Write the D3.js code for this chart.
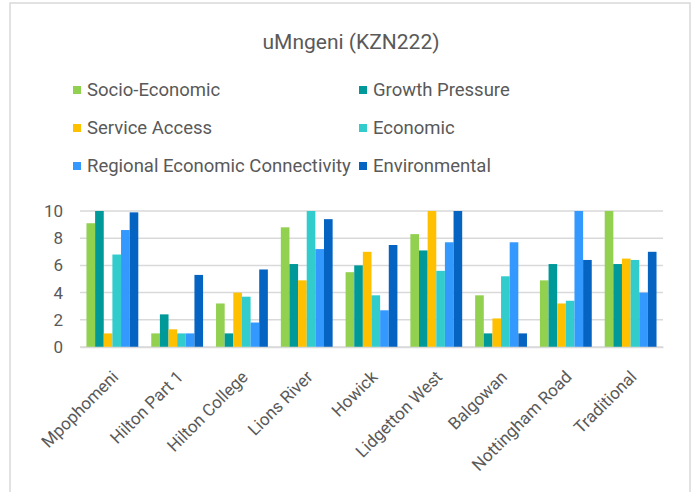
<!DOCTYPE html>
<html><head><meta charset="utf-8">
<script src="https://cdn.jsdelivr.net/npm/d3@7"></script>
<style>body{margin:0;background:#fff;} text{font-family:Roboto, "Open Sans", sans-serif;}</style>
</head><body><svg id="c" width="692" height="492"></svg>
<script>
const categories = ["Mpophomeni","Hilton Part 1","Hilton College","Lions River","Howick","Lidgetton West","Balgowan","Nottingham Road","Traditional"];
const seriesNames = ["Socio-Economic","Growth Pressure","Service Access","Economic","Regional Economic Connectivity","Environmental"];
const socioEconomic = [9.1,1,3.2,8.8,5.5,8.3,3.8,4.9,10];
const growthPressure = [10,2.4,1,6.1,6.0,7.1,1,6.1,6.1];
const serviceAccess = [1,1.3,4,4.9,7.0,10,2.1,3.2,6.5];
const economic = [6.8,1,3.7,10,3.8,5.6,5.2,3.4,6.4];
const regionalConnectivity = [8.6,1,1.8,7.2,2.7,7.7,7.7,10,4.0];
const environmental = [9.9,5.3,5.7,9.4,7.5,10,1,6.4,7.0];
const yTicks = [0,2,4,6,8,10];
const colors = ["#92D050","#009999","#FFC000","#33CCCC","#3399FF","#0563C1"];
const seriesValues = [socioEconomic,growthPressure,serviceAccess,economic,regionalConnectivity,environmental];

const svg = d3.select("#c");
svg.append("rect").attr("x",10).attr("y",3).attr("width",680).attr("height",520)
  .attr("fill","#fff").attr("stroke","#d9d9d9").attr("stroke-width",1.5);

svg.append("text").attr("x",351).attr("y",49).attr("text-anchor","middle")
  .attr("font-size",21).attr("fill","#595959").text("uMngeni (KZN222)");

const x0 = d3.scaleBand().domain(categories).range([80,663]).paddingInner(0.2).paddingOuter(0.1);
const x1 = d3.scaleBand().domain(seriesNames).range([0,x0.bandwidth()]);
const y = d3.scaleLinear().domain([0,10]).range([347,211]);

// grid
svg.append("g").selectAll("line").data(yTicks).join("line")
  .attr("x1",80).attr("x2",663).attr("y1",d=>y(d)).attr("y2",d=>y(d))
  .attr("stroke","#d9d9d9").attr("stroke-width",1.5);

const yAxis = d3.axisLeft(y).tickValues(yTicks).tickSize(0).tickPadding(0);
const ya = svg.append("g").attr("transform","translate(63,0)").call(yAxis);
ya.select(".domain").remove();
ya.selectAll("text").attr("font-size",17).attr("fill","#595959").attr("font-family","Roboto");

// bars
const g = svg.append("g");
categories.forEach((c,i)=>{
  g.selectAll(null).data(seriesNames.map((s,j)=>({s,v:seriesValues[j][i],j}))).join("rect")
    .attr("x",d=>x0(c)+x1(d.s)).attr("width",x1.bandwidth())
    .attr("y",d=>y(d.v)).attr("height",d=>y(0)-y(d.v))
    .attr("fill",d=>colors[d.j]);
});

// x axis
const xAxis = d3.axisBottom(x0).tickSize(0).tickPadding(0);
const xa = svg.append("g").attr("transform","translate(0,"+y(0)+")").call(xAxis);
xa.select(".domain").attr("stroke","#d9d9d9").attr("stroke-width",1.5);
xa.selectAll("text").attr("font-size",17).attr("fill","#595959").attr("font-family","Roboto")
  .attr("text-anchor","end").attr("dy",0).attr("y",0)
  .attr("transform","translate(7,31) rotate(-45)");

// legend
const legPos = [[73,90],[359,90],[73,128],[359,128],[73,166],[359,166]];
const lg = svg.append("g");
seriesNames.forEach((s,i)=>{
  const [lx,ly]=legPos[i];
  lg.append("rect").attr("x",lx).attr("y",ly-4).attr("width",8).attr("height",8).attr("fill",colors[i]);
  lg.append("text").attr("x",lx+14).attr("y",ly+6).attr("font-size",18.5).attr("fill","#595959").text(s);
});
</script></body></html>
